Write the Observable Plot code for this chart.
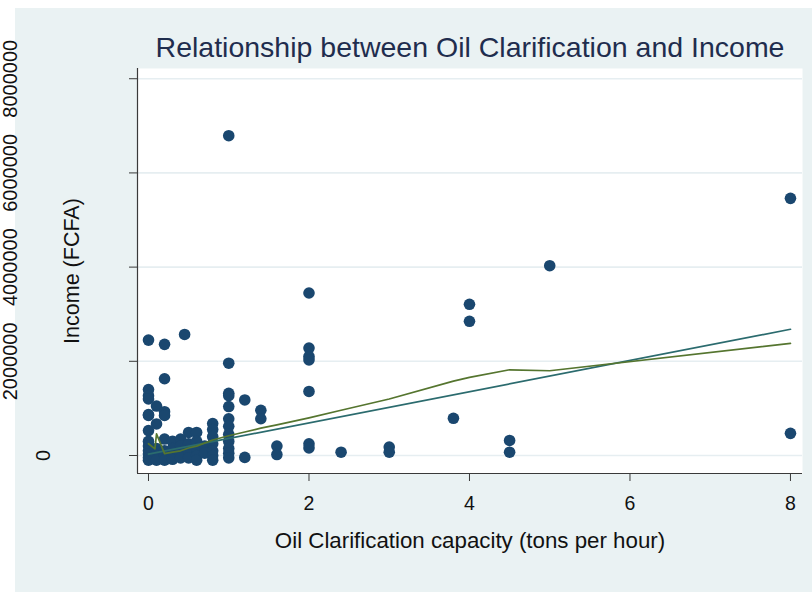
<!DOCTYPE html>
<html>
<head>
<meta charset="utf-8">
<script src="https://cdn.jsdelivr.net/npm/d3@7"></script>
<script src="https://cdn.jsdelivr.net/npm/@observablehq/plot@0.6"></script>
<style>
  html, body { margin: 0; padding: 0; background: #ffffff; }
  #wrap { position: relative; width: 812px; height: 592px; overflow: hidden; }
  #bg { position: absolute; left: 15px; top: 8px; right: 0; bottom: 0; background: #eaf2f3; }
  #chart { position: absolute; left: 0; top: 0; }
</style>
</head>
<body>
<div id="wrap"><div id="bg"></div><div id="chart"></div></div>
<script>
// ---- Data ----
const capacity = [
  0,0,0,0,0,0,0,0,0,0,0,0,0,
  0.1,0.1,0.1,0.1,0.1,
  0.2,0.2,0.2,0.2,0.2,0.2,0.2,0.2,
  0.3,0.3,0.3,0.3,
  0.4,0.4,0.4,0.4,
  0.45,
  0.5,0.5,0.5,0.5,
  0.6,0.6,0.6,0.6,0.6,
  0.7,0.7,
  0.8,0.8,0.8,0.8,0.8,0.8,0.8,
  1,1,1,1,1,1,1,1,1,1,1,1,
  1.2,1.2,
  1.4,1.4,
  1.6,1.6,
  2,2,2,2,2,2,2,
  2.4,
  3,3,
  3.8,
  4,4,
  4.5,4.5,
  5,
  8,8
];
const income = [
  2450000,1400000,1270000,1200000,870000,850000,530000,300000,200000,100000,30000,-50000,-100000,
  1050000,670000,150000,0,-100000,
  2360000,1630000,930000,850000,350000,100000,0,-100000,
  300000,150000,0,-80000,
  350000,200000,50000,-50000,
  2570000,
  490000,250000,100000,-50000,
  490000,300000,150000,0,-100000,
  200000,50000,
  680000,550000,400000,250000,100000,0,-100000,
  6790000,1960000,1320000,1270000,1040000,780000,620000,450000,300000,150000,50000,-50000,
  1180000,-40000,
  960000,780000,
  200000,20000,
  3450000,2280000,2100000,2030000,1360000,250000,160000,
  70000,
  180000,70000,
  790000,
  3210000,2850000,
  320000,70000,
  4030000,
  5460000,470000
];

// Linear fit line (end points)
const fitX = [0, 8];
const fitY = [30000, 2680000];

// Lowess smoother (vertices)
const lowessX = [0, 0.08, 0.1, 0.2, 0.3, 0.4, 0.5, 0.6, 0.8, 1, 1.2, 1.4, 1.6, 2, 2.4, 3, 3.8, 4, 4.5, 5, 8];
const lowessY = [250000, 140000, 460000, 40000, 70000, 100000, 160000, 200000, 330000, 420000, 500000, 580000, 650000, 800000, 960000, 1200000, 1580000, 1660000, 1820000, 1800000, 2380000];

// Axes
const xTicks = [0, 2, 4, 6, 8];
const yTicks = [0, 2000000, 4000000, 6000000, 8000000];
const yTickLabels = ["0", "2000000", "4000000", "6000000", "8000000"];
const xDomain = [-0.137, 8.15];
const yDomain = [-382000, 8217000];

const titleText = "Relationship between Oil Clarification and Income";
const xTitle = "Oil Clarification capacity (tons per hour)";
const yTitle = "Income (FCFA)";

// ---- Build tables ----
const points = capacity.map((c, i) => ({x: c, y: income[i]}));
const fit = fitX.map((c, i) => ({x: c, y: fitY[i]}));
const lowess = lowessX.map((c, i) => ({x: c, y: lowessY[i]}));
const yLab = yTicks.map((v, i) => ({v, t: yTickLabels[i]}));

const font = "'Liberation Sans', Arial, Helvetica, sans-serif";
const axisColor = "#3a3a3a";

const chart = Plot.plot({
  width: 812,
  height: 592,
  marginLeft: 137,
  marginRight: 10,
  marginTop: 68,
  marginBottom: 119,
  style: {background: "transparent", fontFamily: font, overflow: "visible"},
  x: {domain: xDomain},
  y: {domain: yDomain},
  marks: [
    Plot.frame({fill: "white", stroke: "none"}),
    Plot.gridY(yTicks, {stroke: "#e6eef1", strokeOpacity: 1, strokeWidth: 1.6}),
    Plot.ruleX([xDomain[0]], {stroke: axisColor, strokeWidth: 1.2}),
    Plot.ruleY([yDomain[0]], {stroke: axisColor, strokeWidth: 1.2}),
    Plot.axisY({ticks: yTicks, tickSize: 8, tickFormat: () => "", stroke: axisColor, label: null}),
    Plot.axisX({ticks: xTicks, tickSize: 8, tickPadding: 15, fontSize: 19.5, fill: "#111", stroke: axisColor, label: null, tickFormat: d => String(d)}),
    // y tick labels (rotated, as in the reference)
    Plot.text(yLab.filter(d => d.v === 0), {x: xDomain[0], y: "v", text: "t", rotate: -90, dx: -94, fontSize: 20, fill: "#111"}),
    Plot.text(yLab.filter(d => d.v !== 0), {x: xDomain[0], y: "v", text: "t", rotate: -90, dx: -127, fontSize: 20, fill: "#111"}),
    // data
    Plot.dot(points, {x: "x", y: "y", r: 5.8, fill: "#1a476f", stroke: "none"}),
    Plot.line(fit, {x: "x", y: "y", stroke: "#2b6b6e", strokeWidth: 1.7}),
    Plot.line(lowess, {x: "x", y: "y", stroke: "#55752f", strokeWidth: 1.7}),
    // titles
    Plot.text([titleText], {frameAnchor: "top", lineAnchor: "middle", textAnchor: "middle", dy: -21, text: d => d, fontSize: 28.5, fill: "#1f2d4e"}),
    Plot.text([xTitle], {frameAnchor: "bottom", lineAnchor: "middle", textAnchor: "middle", dy: 67, text: d => d, fontSize: 22.3, fill: "#111"}),
    Plot.text([yTitle], {frameAnchor: "left", lineAnchor: "middle", textAnchor: "middle", dx: -65, rotate: -90, text: d => d, fontSize: 21.5, fill: "#111"})
  ]
});
document.getElementById("chart").appendChild(chart);
</script>
</body>
</html>
